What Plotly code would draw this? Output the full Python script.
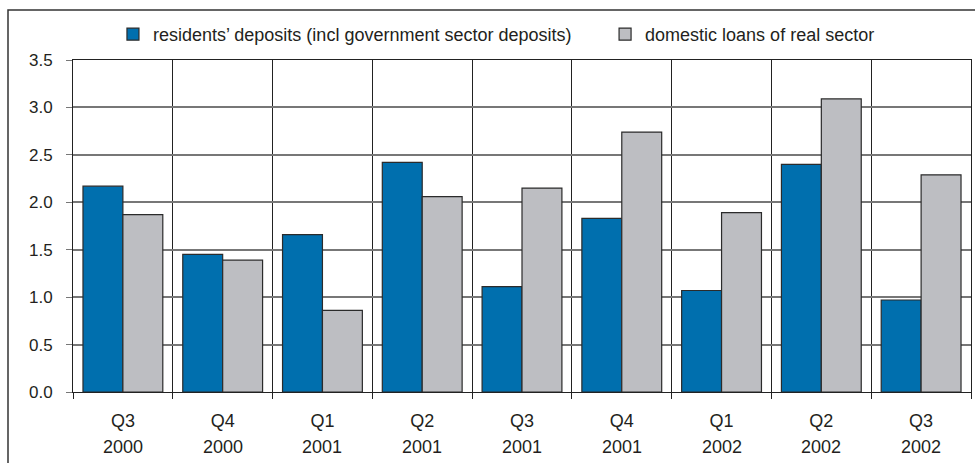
import plotly.graph_objects as go

quarters = ["Q3", "Q4", "Q1", "Q2", "Q3", "Q4", "Q1", "Q2", "Q3"]
years = ["2000", "2000", "2001", "2001", "2001", "2001", "2002", "2002", "2002"]
deposits = [2.17, 1.45, 1.66, 2.42, 1.11, 1.83, 1.07, 2.40, 0.97]
loans = [1.87, 1.39, 0.86, 2.06, 2.15, 2.74, 1.89, 3.09, 2.29]
series_names = ["residents’ deposits (incl government sector deposits)",
                "domestic loans of real sector"]
y_ticks = [0.0, 0.5, 1.0, 1.5, 2.0, 2.5, 3.0, 3.5]

cats = [f"{q} {y}" for q, y in zip(quarters, years)]
FONT = "Liberation Sans, Arial, sans-serif"
TXT = "#231f20"

fig = go.Figure()
fig.add_trace(go.Bar(x=cats, y=deposits, name=series_names[0], legend="legend",
                     marker=dict(color="#006fae", line=dict(color="#2b2b2b", width=1.2))))
fig.add_trace(go.Bar(x=cats, y=loans, name=series_names[1], legend="legend2",
                     marker=dict(color="#bdbec2", line=dict(color="#2b2b2b", width=1.2))))

for c, y in zip(cats, years):
    fig.add_annotation(x=c, y=-0.167, xref="x", yref="paper", text=y, showarrow=False,
                       font=dict(family=FONT, size=18, color=TXT), yanchor="middle")

# figure border (top & left visible, right/bottom cropped)
fig.add_shape(type="rect", xref="paper", yref="paper",
              x0=(8 - 73) / 898, x1=1.2, y0=-0.3, y1=(392 - 10) / 332,
              line=dict(color="#333333", width=1.5), layer="below")

leg_common = dict(orientation="h", xanchor="left", y=1.077, yanchor="middle",
                  font=dict(family=FONT, size=18, color=TXT), itemwidth=30,
                  bgcolor="rgba(0,0,0,0)")
fig.update_layout(
    width=975, height=463,
    margin=dict(l=73, r=4, t=60, b=71, autoexpand=False),
    paper_bgcolor="white", plot_bgcolor="white",
    barmode="group", bargap=0.2, bargroupgap=0,
    font=dict(family=FONT, size=18, color=TXT),
    legend=dict(x=0.0445, **leg_common),
    legend2=dict(x=0.5925, **leg_common),
    showlegend=True,
)
fig.update_xaxes(type="category", tickmode="array", tickvals=cats, ticktext=quarters,
                 tickson="boundaries", ticks="outside", ticklen=6, tickcolor="#222",
                 showgrid=True, gridcolor="#222", gridwidth=1,
                 showline=True, linecolor="#222", linewidth=1, mirror=True,
                 ticklabelstandoff=12, tickfont=dict(family=FONT, size=18, color=TXT))
fig.update_yaxes(range=[0, 3.5], tickmode="array", tickvals=y_ticks,
                 ticktext=[f"{v:.1f}" for v in y_ticks],
                 ticks="outside", ticklen=6, tickcolor="#777",
                 showgrid=True, gridcolor="#777", gridwidth=1.5,
                 zeroline=False,
                 showline=True, linecolor="#222", linewidth=1, mirror=True,
                 ticklabelstandoff=10, tickfont=dict(family=FONT, size=17, color=TXT))

fig.write_html("out.html", config={"displayModeBar": False},
               post_script="document.body.style.margin='0';document.body.style.overflow='hidden';")
